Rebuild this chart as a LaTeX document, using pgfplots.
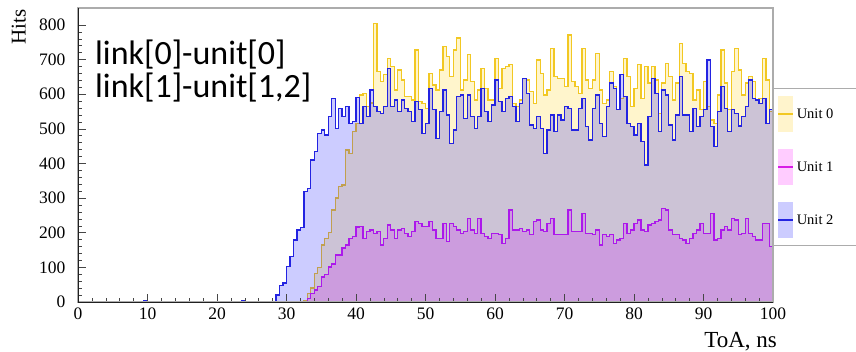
\documentclass[border=0pt]{standalone}
\usepackage{fontspec}
\setmainfont{Liberation Serif}
\newfontfamily\carlito{Carlito}
\usepackage{pgfplots}
\usepackage{pgfplotstable}
\pgfplotsset{compat=1.18}
\definecolor{yline}{RGB}{242,200,35}
\definecolor{yfill}{RGB}{255,204,0}
\definecolor{mline}{RGB}{215,30,230}
\definecolor{mfill}{RGB}{255,0,255}
\definecolor{bline}{RGB}{35,35,225}
\definecolor{bfill}{RGB}{0,0,255}

\pgfplotstableread{
x y
0 0
32.5 5
33 25
33.5 40
34 83
34.5 100
35 165
35.5 184
36 200
36.5 266
37 300
37.5 333
38 338
38.5 439
39 429
39.5 492
40 516
40.5 598
41 603
41.5 564
42 575
42.5 805
43 665
43.5 636
44 656
44.5 704
45 680
45.5 612
46 670
46.5 641
47 593
47.5 593
48 583
48.5 728
49 579
49.5 574
50 559
50.5 660
51 627
51.5 612
52 670
52.5 737
53 708
53.5 651
54 728
54.5 762
55 612
55.5 641
56 714
56.5 636
57 583
57.5 612
58 675
58.5 617
59 583
59.5 583
60 704
60.5 617
61 675
61.5 680
62 685
62.5 574
63 564
63.5 583
64 646
64.5 641
65 608
65.5 574
66 699
66.5 660
67 598
67.5 612
68 733
68.5 651
69 646
69.5 646
70 622
70.5 771
71 636
71.5 622
72 603
72.5 733
73 641
73.5 617
74 641
74.5 718
75 612
75.5 574
76 583
76.5 665
77 622
77.5 555
78 588
78.5 704
79 651
79.5 564
80 617
80.5 685
81 588
81.5 680
82 632
82.5 680
83 641
83.5 545
84 632
84.5 689
85 651
85.5 583
86 632
86.5 747
87 689
87.5 665
88 660
88.5 583
89 612
89.5 555
90 636
90.5 564
91 526
91.5 516
92 598
92.5 728
93 632
93.5 555
94 665
94.5 733
95 670
95.5 598
96 632
96.5 651
97 636
97.5 583
98 588
98.5 704
99 641
99.5 550
100 550
}\unitzero

\pgfplotstableread{
x y
0 0
33 10
33.5 25
34 35
34.5 45
35 72
35.5 80
36 101
36.5 110
37 136
37.5 136
38 156
38.5 165
39 184
39.5 190
40 217
40.5 218
41 184
41.5 203
42 208
42.5 198
43 203
43.5 165
44 184
44.5 222
45 208
45.5 184
46 208
46.5 213
47 198
47.5 189
48 203
48.5 232
49 227
49.5 218
50 218
50.5 232
51 208
51.5 184
52 184
52.5 227
53 174
53.5 227
54 218
54.5 208
55 198
55.5 203
56 242
56.5 208
57 198
57.5 242
58 198
58.5 189
59 184
59.5 198
60 198
60.5 194
61 169
61.5 184
62 266
62.5 208
63 208
63.5 213
64 203
64.5 208
65 194
65.5 232
66 237
66.5 208
67 203
67.5 227
68 242
68.5 194
69 194
69.5 194
70 194
70.5 266
71 203
71.5 203
72 203
72.5 256
73 198
73.5 198
74 194
74.5 208
75 165
75.5 194
76 189
76.5 194
77 169
77.5 179
78 184
78.5 227
79 198
79.5 208
80 227
80.5 237
81 208
81.5 203
82 222
82.5 227
83 232
83.5 237
84 271
84.5 266
85 208
85.5 194
86 194
86.5 184
87 179
87.5 169
88 184
88.5 198
89 208
89.5 227
90 198
90.5 198
91 256
91.5 179
92 184
92.5 208
93 218
93.5 208
94 242
94.5 237
95 194
95.5 198
96 242
96.5 198
97 189
97.5 179
98 179
98.5 227
99 227
99.5 160
100 160
}\unitone

\pgfplotstableread{
x y
0 0
9.5 3
10 0
23.5 3
24 0
28.5 20
29 47
29.5 55
30 102
30.5 131
31 179
31.5 208
32 215
32.5 319
33 328
33.5 410
34 434
34.5 487
35 497
35.5 482
36 535
36.5 588
37 502
37.5 559
38 535
38.5 564
39 516
39.5 521
40 590
40.5 516
41 564
41.5 535
42 612
42.5 564
43 550
43.5 545
44 564
44.5 675
45 564
45.5 583
46 550
46.5 583
47 559
47.5 550
48 521
48.5 579
49 555
49.5 487
50 516
50.5 617
51 555
51.5 473
52 550
52.5 612
53 540
53.5 458
54 497
54.5 593
55 598
55.5 530
56 598
56.5 535
57 502
57.5 535
58 617
58.5 550
59 521
59.5 569
60 641
60.5 579
61 550
61.5 588
62 593
62.5 564
63 521
63.5 574
64 646
64.5 603
65 511
65.5 502
66 535
66.5 502
67 429
67.5 497
68 540
68.5 492
69 540
69.5 526
70 564
70.5 559
71 497
71.5 497
72 559
72.5 588
73 506
73.5 468
74 559
74.5 598
75 516
75.5 478
76 564
76.5 632
77 617
77.5 555
78 656
78.5 593
79 516
79.5 506
80 482
80.5 516
81 463
81.5 396
82 535
82.5 646
83 603
83.5 492
84 612
84.5 598
85 511
85.5 468
86 540
86.5 651
87 540
87.5 540
88 492
88.5 559
89 506
89.5 535
90 555
90.5 699
91 506
91.5 449
92 550
92.5 622
93 559
93.5 492
94 555
94.5 545
95 508
95.5 535
96 564
96.5 641
97 588
97.5 583
98 574
98.5 588
99 516
99.5 555
100 555
}\unittwo

\begin{document}
\begin{tikzpicture}
\useasboundingbox (0,0) rectangle (856pt,351pt);
\begin{axis}[
  name=ax,
  at={(78pt,49pt)}, anchor=south west,
  scale only axis, width=695pt, height=294pt,
  xmin=0, xmax=100, ymin=0, ymax=849,
  xtick={0,10,...,100}, ytick={0,100,...,800},
  minor x tick num=4, minor y tick num=4,
  tick align=inside, xtick pos=left, ytick pos=left,
  major tick length=8pt, minor tick length=4pt,
  tick style={gray!55!black, line width=0.6pt},
  axis line style={gray!65, line width=1.2pt},
  axis on top,
  /pgf/number format/assume math mode=true,
  tick label style={font=\fontsize{17.5}{18}\selectfont},
  xticklabel style={yshift=-2pt},
  yticklabel style={xshift=-9pt},
  legend style={at={(1,0.7279)}, anchor=north west, draw=gray!65, line width=0.9pt,
    fill=white, inner xsep=4pt, inner ysep=7.5pt, row sep=17pt, column sep=3pt,
    font=\fontsize{14.5}{14.5}\selectfont, cells={anchor=west}, nodes={inner sep=0pt}},
  legend cell align=left,
  legend image code/.code={
    \path[#1, draw=none] (0pt,-18pt) rectangle (15pt,18pt);
    \draw[#1, fill=none] (0pt,0pt) -- (15pt,0pt);
  },
]
\addplot[const plot mark left, draw=yline, line width=1.3pt, fill=yfill, fill opacity=0.2]
  table {\unitzero} \closedcycle;
\addlegendentry{Unit 0\hspace*{60pt}}
\addplot[const plot mark left, draw=mline, line width=1.3pt, fill=mfill, fill opacity=0.2]
  table {\unitone} \closedcycle;
\addlegendentry{Unit 1\hspace*{60pt}}
\addplot[const plot mark left, draw=bline, line width=1.3pt, fill=bfill, fill opacity=0.2]
  table {\unittwo} \closedcycle;
\addlegendentry{Unit 2\hspace*{60pt}}
\end{axis}
\draw[gray!25!black, line width=1pt] (ax.north west) -- (ax.south west) -- (ax.south east);
\node[anchor=base west, inner sep=0pt, font=\carlito\fontsize{34}{34}\selectfont] at (95pt,286pt) {link[0]-unit[0]};
\node[anchor=base west, inner sep=0pt, font=\carlito\fontsize{34}{34}\selectfont] at (95pt,253pt) {link[1]-unit[1,2]};
\node[rotate=90, anchor=base east, inner sep=0pt, font=\fontsize{21}{21}\selectfont] at (25.5pt,342pt) {Hits};
\node[anchor=base east, inner sep=0pt, font=\fontsize{23}{23}\selectfont] at (777pt,4pt) {ToA, ns};
\end{tikzpicture}
\end{document}
